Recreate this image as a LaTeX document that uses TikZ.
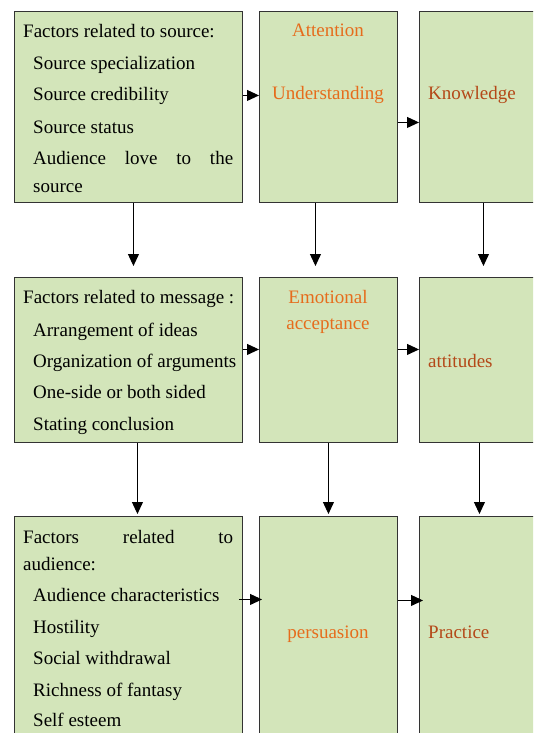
\documentclass[tikz,border=0pt]{standalone}
\usepackage{fontspec}
\setmainfont{Liberation Serif}
\usetikzlibrary{arrows.meta}

\definecolor{boxgreen}{RGB}{211,229,186}
\definecolor{txtorange}{RGB}{230,108,28}
\definecolor{txtbrown}{RGB}{180,72,24}

\tikzset{
  box/.style={draw=black!80, fill=boxgreen, line width=0.9pt, inner sep=0pt, anchor=north west},
  item/.style={font=\fontsize{19}{22}\selectfont, inner sep=0pt, anchor=base west},
  stage/.style={item, text=txtorange, anchor=base},
  effect/.style={item, text=txtbrown},
  arr/.style={-{Triangle[length=12pt,width=11pt]}, line width=0.9pt}
}

\begin{document}
\begin{tikzpicture}[x=1pt,y=-1pt]
    \clip (0,0) rectangle (533,733);
    % boxes, first row
    \node[box, minimum width=228pt, minimum height=191pt] (src) at (14,11) {};
    \node[box, minimum width=138pt, minimum height=191pt] (und) at (259,11) {};
    \node[box, minimum width=140pt, minimum height=191pt] (know) at (419,11) {};
    % second row
    \node[box, minimum width=228pt, minimum height=165pt] (msg) at (14,277) {};
    \node[box, minimum width=138pt, minimum height=165pt] (emo) at (259,277) {};
    \node[box, minimum width=140pt, minimum height=165pt] (att) at (419,277) {};
    % third row
    \node[box, minimum width=228pt, minimum height=224pt] (aud) at (14,516) {};
    \node[box, minimum width=138pt, minimum height=224pt] (pers) at (259,516) {};
    \node[box, minimum width=140pt, minimum height=224pt] (prac) at (419,516) {};

    % source
    \node[item] (srchead) at (23,38) {Factors related to source:};
    \foreach \t/\y [count=\i] in {Source specialization/70, Source credibility/101, Source status/133}
    \node[item] (srcitem\i) at (33,\y) {\t};
    \node[item] (srclove) at (33,164) {\makebox[200pt][s]{Audience love to the}};
    \node[item] (srclove2) at (33,192) {source};
    \node[stage] (attn) at (328,37) {Attention};
    \node[stage] (undt) at (328,100) {Understanding};
    \node[effect] (knowt) at (428,100) {Knowledge};

    % message
    \node[item] (msghead) at (23,303) {Factors related to message :};
    \foreach \t/\y [count=\i] in {Arrangement of ideas/336, Organization of arguments/367,
      One-side or both sided/398, Stating conclusion/430}
    \node[item] (msgitem\i) at (33,\y) {\t};
    \node[stage] (emot) at (328,303) {Emotional};
    \node[stage] (acct) at (328,329) {acceptance};
    \node[effect] (attt) at (428,367) {attitudes};

    % audience
    \node[item] (audhead) at (23,543) {\makebox[210pt][s]{Factors related to}};
    \node[item] (audhead2) at (23,570) {audience:};
    \foreach \t/\y [count=\i] in {Audience characteristics/601, Hostility/633,
      Social withdrawal/664, Richness of fantasy/696, Self esteem/726}
    \node[item] (auditem\i) at (33,\y) {\t};
    \node[stage] (perst) at (328,638) {persuasion};
    \node[effect] (pract) at (428,638) {Practice};

    % arrows across
    \draw[arr] ([yshift=11.5pt]src.east) -- ([yshift=11.5pt]und.west);
    \draw[arr] ([yshift=-15.5pt]und.east) -- ([yshift=-15.5pt]know.west);
    \draw[arr] ([yshift=10.5pt]msg.east) -- ([yshift=10.5pt]emo.west);
    \draw[arr] ([yshift=10.5pt]emo.east) -- ([yshift=10.5pt]att.west);
    \draw[arr] ([xshift=-4pt,yshift=29pt]aud.east) -- ([xshift=3pt,yshift=29pt]pers.west);
    \draw[arr] ([yshift=28pt]pers.east) -- ([xshift=4pt,yshift=28pt]prac.west);

    % arrows down
    \draw[arr, shorten >=11pt] ([xshift=5pt]src.south) -- ([xshift=5pt]msg.north);
    \draw[arr, shorten >=11pt] ([xshift=-13pt]und.south) -- ([xshift=-13pt]emo.north);
    \draw[arr, shorten >=11pt] ([xshift=-6pt]know.south) -- ([xshift=-6pt]att.north);
    \draw[arr, shorten >=2pt] ([xshift=9pt]msg.south) -- ([xshift=9pt]aud.north);
    \draw[arr, shorten >=2pt] (emo.south) -- (pers.north);
    \draw[arr, shorten >=2pt] ([xshift=-10pt]att.south) -- ([xshift=-10pt]prac.north);
\end{tikzpicture}
\end{document}
